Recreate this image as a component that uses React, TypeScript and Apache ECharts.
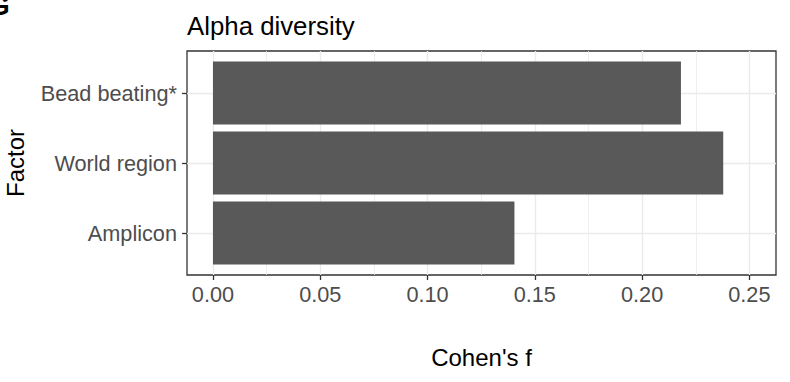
import React, { useEffect, useRef } from "react";
import * as echarts from "echarts";

const categories = ["Amplicon", "World region", "Bead beating*"];
const cohensF = [0.1405, 0.2378, 0.2181];
const xTicks = [0, 0.05, 0.1, 0.15, 0.2, 0.25];
const xMinorTicks = [0.025, 0.075, 0.125, 0.175, 0.225];
const yTicks = [1, 2, 3];

export default function App() {
  const ref = useRef<HTMLDivElement>(null);
  useEffect(() => {
    if (!ref.current) return;
    const chart = echarts.init(ref.current, undefined, { renderer: "svg" });
    const data = cohensF.map((v, i) => [v, i + 1]);
    const font = "'Liberation Sans', Arial, sans-serif";
    const option: any = {
      animation: false,
      backgroundColor: "#ffffff",
      title: {
        text: "Alpha diversity",
        left: 187,
        top: 13,
        padding: 0,
        textStyle: { fontFamily: font, fontSize: 25.8, fontWeight: "normal", color: "#000000" },
      },
      graphic: [
        {
          type: "text",
          left: -12,
          top: -9,
          style: { text: "G", font: "bold 28px " + font, fill: "#000000" },
        },
      ],
      grid: {
        left: 187,
        top: 51,
        width: 589,
        height: 224,
        show: true,
        outerBoundsMode: "none",
        containLabel: false,
        borderColor: "#333333",
        borderWidth: 1.3,
        backgroundColor: "transparent",
      },
      xAxis: [
        {
          type: "value",
          min: -0.0121,
          max: 0.2624,
          position: "bottom",
          name: "Cohen's f",
          nameLocation: "middle",
          nameGap: 70,
          nameTextStyle: { fontFamily: font, fontSize: 24, color: "#000000" },
          axisLine: { show: false, onZero: false },
          axisTick: { show: true, inside: false, length: 5, customValues: xTicks, lineStyle: { color: "#333333", width: 1.3 } },
          axisLabel: {
            customValues: xTicks,
            margin: 8,
            fontFamily: font,
            fontSize: 21.7,
            color: "#4d4d4d",
            formatter: (v: number) => v.toFixed(2),
          },
          splitLine: { show: true, lineStyle: { color: "#ebebeb", width: 1.4 } },
        },
        {
          type: "value",
          min: -0.0121,
          max: 0.2624,
          position: "bottom",
          axisLine: { show: false, onZero: false },
          axisTick: { show: false, customValues: xMinorTicks },
          axisLabel: { show: false, customValues: xMinorTicks },
          splitLine: { show: true, lineStyle: { color: "#ebebeb", width: 0.8 } },
        },
      ],
      yAxis: {
        type: "value",
        min: 0.4,
        max: 3.6,
        position: "left",
        name: "Factor",
        nameLocation: "middle",
        nameRotate: 90,
        nameGap: 160,
        nameTextStyle: { fontFamily: font, fontSize: 24, color: "#000000" },
        axisLine: { show: false, onZero: false },
        axisTick: { show: true, inside: false, length: 5, customValues: yTicks, lineStyle: { color: "#333333", width: 1.3 } },
        axisLabel: {
          customValues: yTicks,
          margin: 10,
          fontFamily: font,
          fontSize: 21.7,
          color: "#4d4d4d",
          formatter: (v: number) => categories[Math.round(v) - 1] ?? "",
        },
        splitLine: { show: true, lineStyle: { color: "#ebebeb", width: 1.4 } },
      },
      series: [
        {
          type: "custom",
          xAxisIndex: 0,
          yAxisIndex: 0,
          encode: { x: 0, y: 1 },
          data,
          renderItem: (params: any, api: any) => {
            const v = api.value(0);
            const idx = api.value(1);
            const p0 = api.coord([0, idx + 0.45]);
            const p1 = api.coord([v, idx - 0.45]);
            return {
              type: "rect",
              shape: { x: p0[0], y: p0[1], width: p1[0] - p0[0], height: p1[1] - p0[1] },
              style: { fill: "#595959" },
            };
          },
        },
      ],
    };
    chart.setOption(option);
    return () => chart.dispose();
  }, []);
  return (
    <div
      ref={ref}
      style={{ position: "fixed", left: 0, top: 0, width: 790, height: 382, background: "#fff" }}
    />
  );
}
